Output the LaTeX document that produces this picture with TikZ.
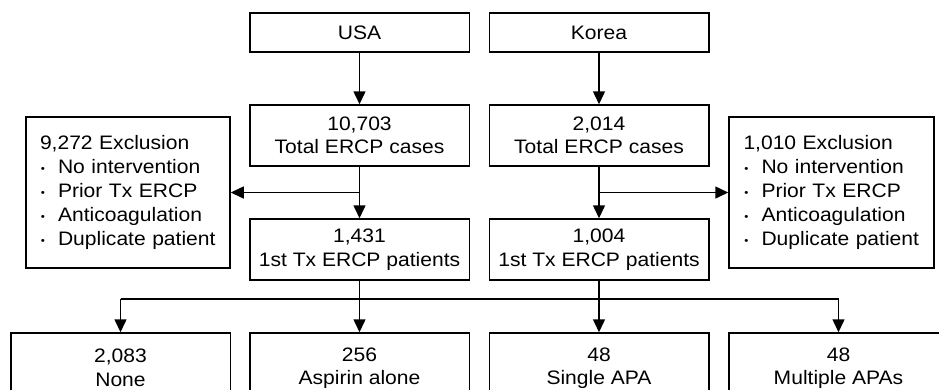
\documentclass[tikz,border=0pt]{standalone}
\usepackage{fontspec}
\setmainfont{Liberation Sans}[FakeStretch=1.08]
\usetikzlibrary{positioning,arrows.meta}

\tikzset{
  box/.style={draw, line width=1.5pt, minimum width=219.5pt, inner sep=0pt, align=center,
    font=\fontsize{19.5}{23.5}\selectfont},
  exbox/.style={box, align=left, text width=176pt, font=\fontsize{19.5}{24}\selectfont},
  arr/.style={line width=1.5pt, -{Triangle[length=13pt,width=12pt]}},
  lin/.style={line width=1.5pt}
}
\newcommand{\bul}[1]{\mbox{\makebox[6pt]{\raisebox{0.15ex}{\scalebox{0.55}{\textbullet}}}\hspace{12pt}#1}}

\begin{document}
\begin{tikzpicture}[x=1pt,y=-1pt]

\clip (0,0) rectangle (939,389);

\node[box, minimum height=39pt] (usa) at (359.5,32.5) {USA};
\node[box, minimum height=39pt] (korea) at (599,32.5) {Korea};

\node[box, minimum height=61pt] (tot1) at (359.5,135.5) {10,703\\Total ERCP cases};
\node[box, minimum height=61pt] (tot2) at (599,135.5) {2,014\\Total ERCP cases};

\node[exbox, minimum width=204pt, minimum height=151pt] (exc1) at (128,192.5)
  {9,272 Exclusion\\\bul{No intervention}\\\bul{Prior Tx ERCP}\\\bul{Anticoagulation}\\\bul{Duplicate patient}};
\node[exbox, minimum width=205pt, minimum height=151pt] (exc2) at (831.5,192.5)
  {1,010 Exclusion\\\bul{No intervention}\\\bul{Prior Tx ERCP}\\\bul{Anticoagulation}\\\bul{Duplicate patient}};

\node[box, minimum height=61pt] (first1) at (359.5,249.5) {1,431\\1st Tx ERCP patients};
\node[box, minimum height=61pt] (first2) at (599,249.5) {1,004\\1st Tx ERCP patients};

\node[box, minimum height=70pt] (none) at (120.5,368) {2,083\\None};
\node[box, minimum height=70pt] (asp) at (359.5,368) {256\\Aspirin alone};
\node[box, minimum height=70pt] (single) at (599,368) {48\\Single APA};
\node[box, minimum height=70pt] (multi) at (838.5,368) {48\\Multiple APAs};

\coordinate (split) at (0,299);

\draw[arr] (usa) -- (tot1);
\draw[arr] (korea) -- (tot2);
\draw[arr] (tot1) -- (first1);
\draw[arr] (tot2) -- (first2);
\draw[arr] (tot1.south |- exc1.east) -- (exc1.east);
\draw[arr] (tot2.south |- exc2.west) -- (exc2.west);

\draw[lin] (first1.south) -- (first1.south |- split);
\draw[lin] (first2.south) -- (first2.south |- split);
\draw[lin] (none.north |- split) -- (multi.north |- split);
\draw[arr] (none.north |- split) -- (none.north);
\draw[arr] (asp.north |- split) -- (asp.north);
\draw[arr] (single.north |- split) -- (single.north);
\draw[arr] (multi.north |- split) -- (multi.north);
\end{tikzpicture}
\end{document}
